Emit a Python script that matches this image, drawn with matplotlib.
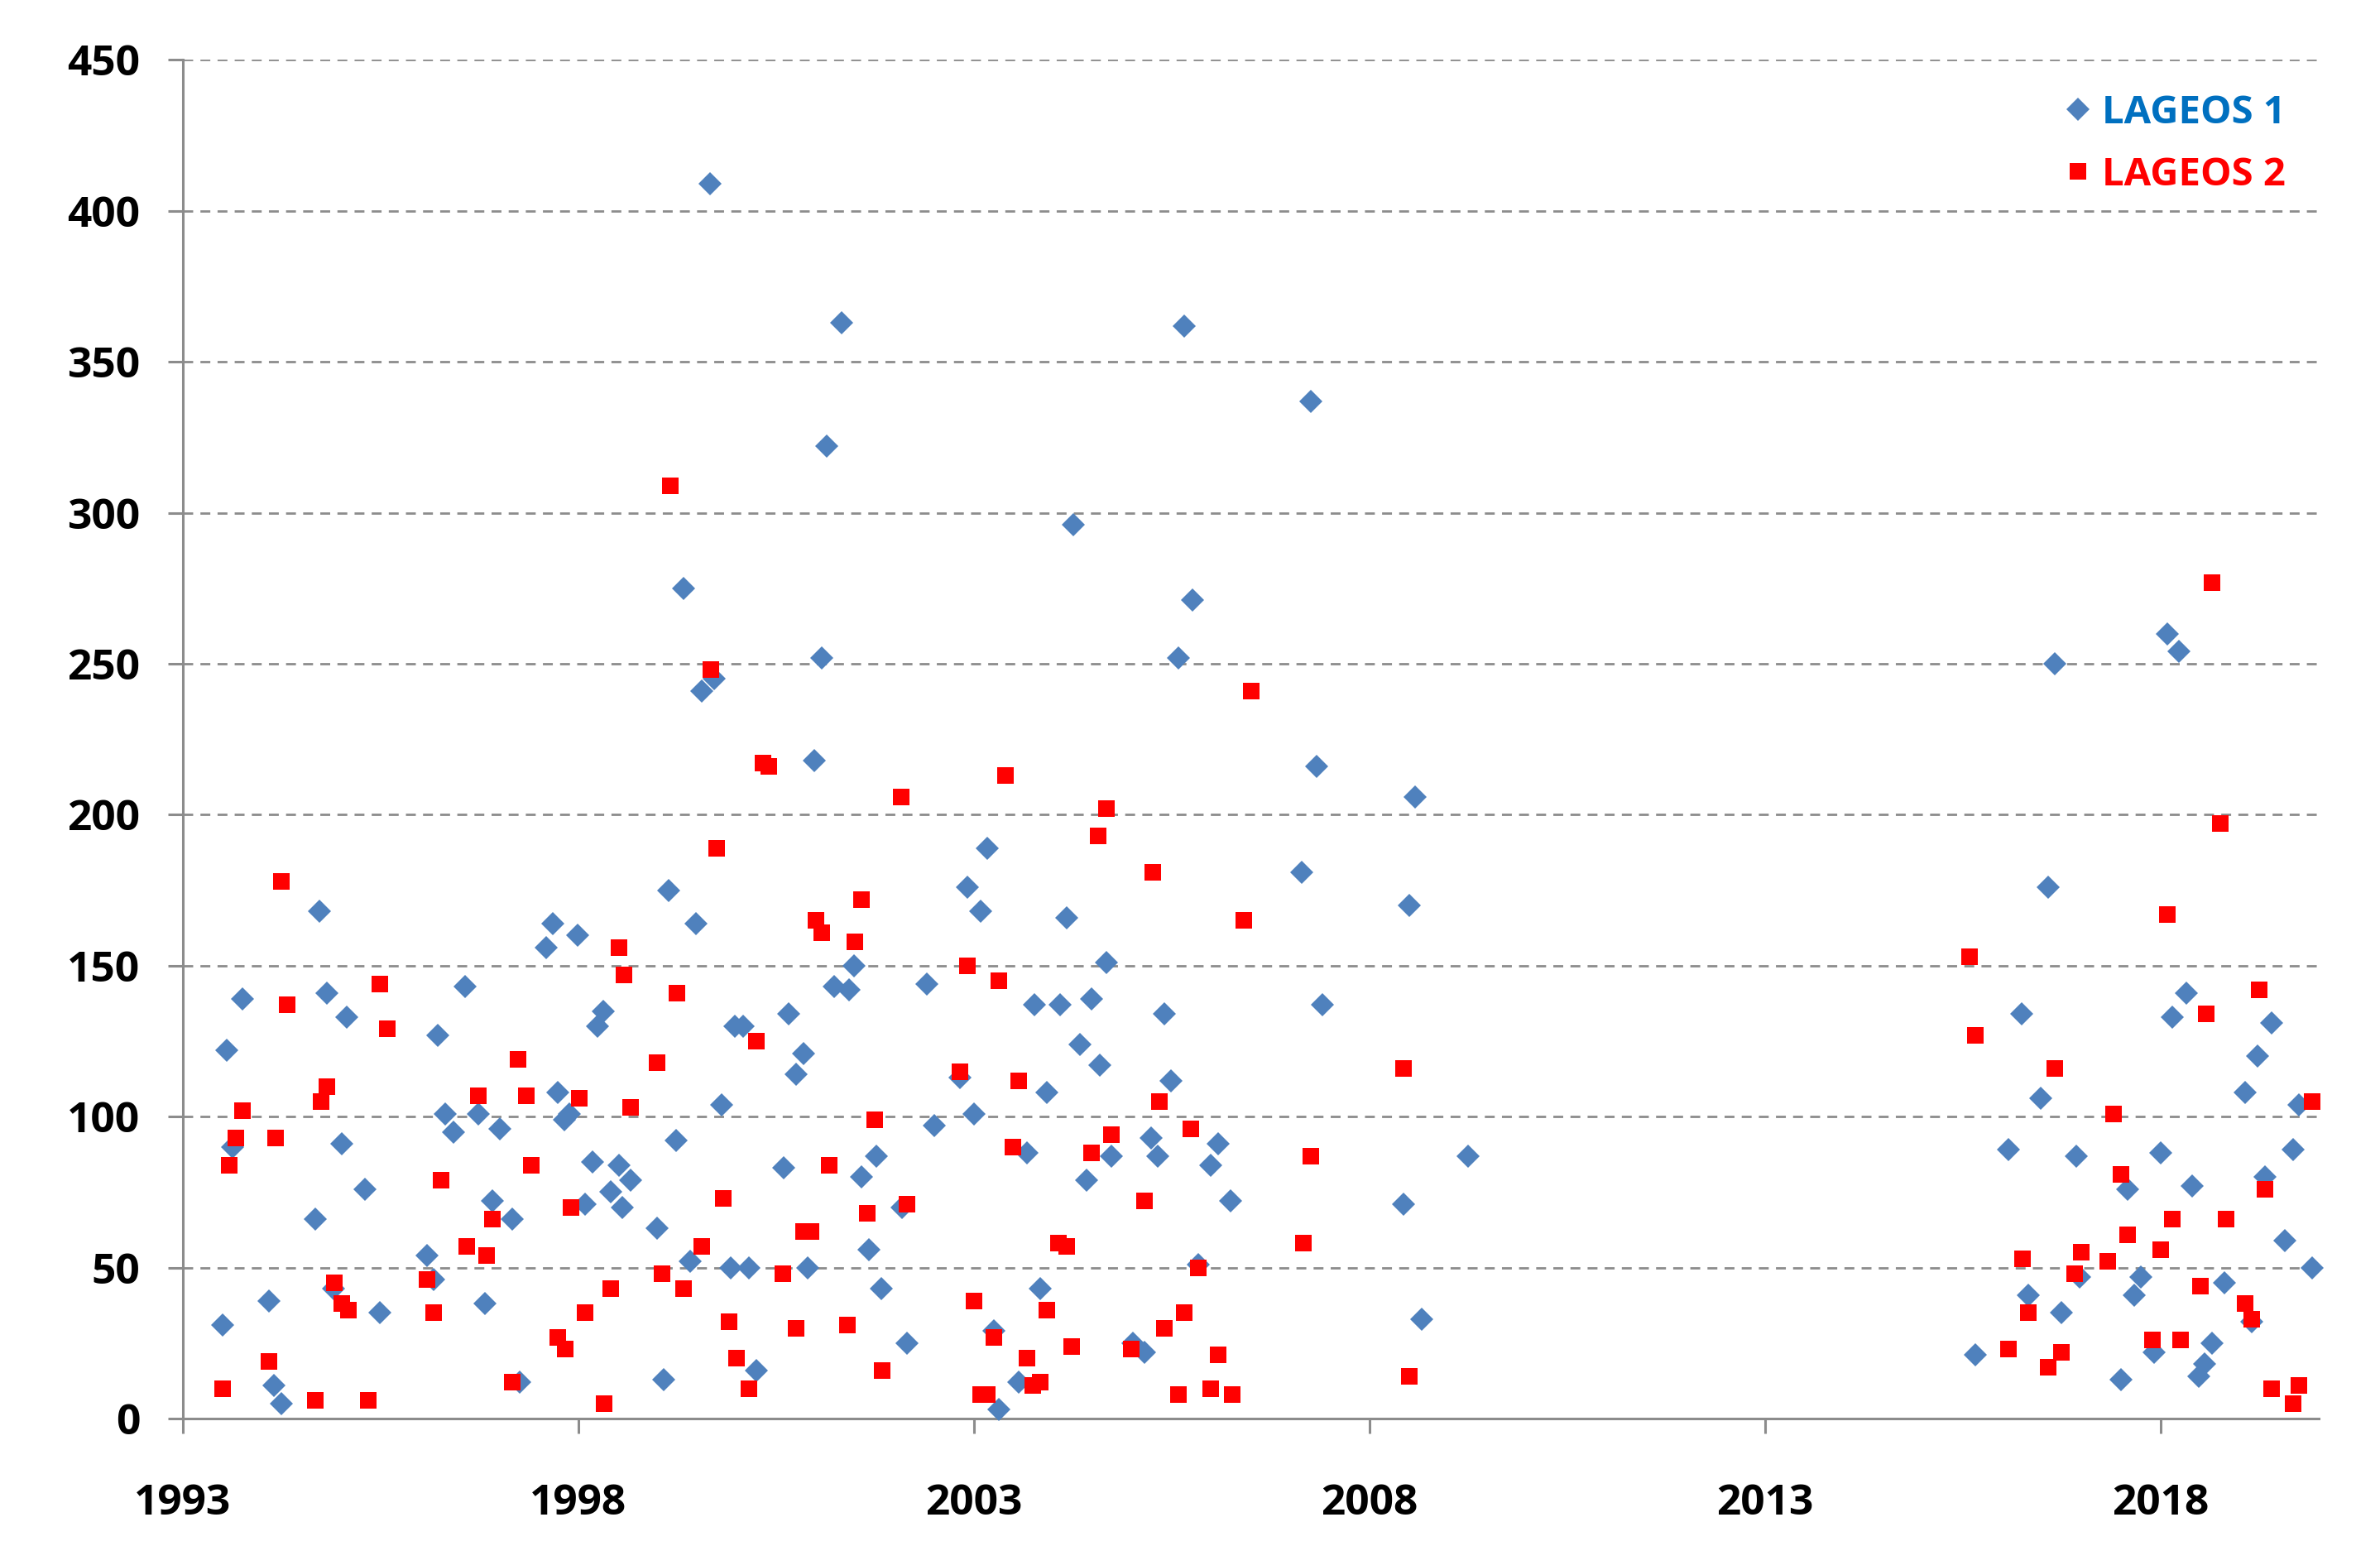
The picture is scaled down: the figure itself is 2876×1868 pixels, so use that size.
import matplotlib
matplotlib.use('Agg')
import matplotlib.pyplot as plt

plt.rcParams['font.family'] = ['Open Sans', 'DejaVu Sans']
plt.rcParams['font.weight'] = 'bold'
plt.rcParams['lines.scale_dashes'] = False

# LAGEOS 1 (blue diamonds)
lageos1_year = [1993.50, 1993.56, 1993.63, 1993.75, 1994.09, 1994.15, 1994.25, 1994.67, 1994.73, 1994.82,
                1994.90, 1995.01, 1995.07, 1995.30, 1995.49,
                1996.09, 1996.17, 1996.22, 1996.32, 1996.42, 1996.57, 1996.74, 1996.82, 1996.91, 1997.01,
                1997.16, 1997.26, 1997.59, 1997.68, 1997.74, 1997.82, 1997.89, 1997.99,
                1998.08, 1998.18, 1998.24, 1998.31, 1998.41, 1998.51, 1998.56, 1998.66, 1998.99, 1999.08,
                1999.14, 1999.24, 1999.33, 1999.41, 1999.49, 1999.56, 1999.66, 1999.72, 1999.81, 1999.93, 1999.98,
                2000.08, 2000.16, 2000.25, 2000.60, 2000.66, 2000.75, 2000.85, 2000.90, 2000.98, 2001.08,
                2001.14, 2001.23, 2001.33, 2001.42, 2001.48, 2001.58, 2001.67, 2001.77, 2001.83,
                2002.09, 2002.15, 2002.40, 2002.50, 2002.82, 2002.92, 2003.00, 2003.09, 2003.17, 2003.25,
                2003.32, 2003.57, 2003.67, 2003.76, 2003.84, 2003.92,
                2004.09, 2004.17, 2004.26, 2004.34, 2004.42, 2004.49, 2004.59, 2004.67, 2004.74, 2005.01,
                2005.16, 2005.24, 2005.32, 2005.41, 2005.49, 2005.59, 2005.66, 2005.76, 2005.84, 2005.99,
                2006.09, 2006.24,
                2007.14, 2007.26, 2007.33, 2007.41, 2008.43, 2008.50, 2008.58, 2008.66, 2009.25,
                2015.66, 2016.08, 2016.24, 2016.33, 2016.48, 2016.58, 2016.66, 2016.75, 2016.93, 2016.98,
                2017.50, 2017.58, 2017.67, 2017.75, 2017.92, 2018.00, 2018.08, 2018.15, 2018.23, 2018.33,
                2018.40, 2018.48, 2018.56, 2018.65, 2018.81, 2019.07, 2019.15, 2019.23, 2019.32, 2019.40,
                2019.57, 2019.67, 2019.75, 2019.92]
lageos1_val = [31, 122, 90, 139, 39, 11, 5, 66, 168, 141,
               43, 91, 133, 76, 35,
               54, 46, 127, 101, 95, 143, 101, 38, 72, 96,
               66, 12, 156, 164, 108, 99, 101, 160,
               71, 85, 130, 135, 75, 84, 70, 79, 63, 13,
               175, 92, 275, 52, 164, 241, 409, 245, 104, 50, 130,
               130, 50, 16, 83, 134, 114, 121, 50, 218, 252,
               322, 143, 363, 142, 150, 80, 56, 87, 43,
               70, 25, 144, 97, 113, 176, 101, 168, 189, 29,
               3, 12, 88, 137, 43, 108,
               137, 166, 296, 124, 79, 139, 117, 151, 87, 25,
               22, 93, 87, 134, 112, 252, 362, 271, 51, 84,
               91, 72,
               181, 337, 216, 137, 71, 170, 206, 33, 87,
               21, 89, 134, 41, 106, 176, 250, 35, 87, 47,
               13, 76, 41, 47, 22, 88, 260, 133, 254, 141,
               77, 14, 18, 25, 45, 108, 32, 120, 80, 131,
               59, 89, 104, 50]

# LAGEOS 2 (red squares)
lageos2_year = [1993.50, 1993.59, 1993.67, 1993.75, 1994.09, 1994.17, 1994.25, 1994.32, 1994.67, 1994.75,
                1994.82, 1994.92, 1995.01, 1995.09, 1995.34, 1995.49, 1995.59,
                1996.09, 1996.17, 1996.26, 1996.59, 1996.74, 1996.84, 1996.91, 1997.16, 1997.24,
                1997.34, 1997.41, 1997.74, 1997.83, 1997.91, 1998.01, 1998.08,
                1998.33, 1998.41, 1998.51, 1998.58, 1998.66, 1998.99, 1999.06, 1999.16, 1999.25, 1999.33,
                1999.56, 1999.68, 1999.75, 1999.83, 1999.91, 2000.00, 2000.16, 2000.25, 2000.33, 2000.41,
                2000.58, 2000.75, 2000.85, 2000.94, 2001.00, 2001.08, 2001.17, 2001.40, 2001.50, 2001.58,
                2001.65, 2001.75, 2001.84, 2002.08, 2002.15,
                2002.82, 2002.92, 2003.00, 2003.09, 2003.17, 2003.25, 2003.32, 2003.40, 2003.49, 2003.57,
                2003.67, 2003.74, 2003.84, 2003.92, 2004.07, 2004.17, 2004.24, 2004.49, 2004.57, 2004.67,
                2004.74, 2004.99, 2005.16, 2005.26, 2005.34, 2005.41, 2005.59, 2005.66, 2005.74, 2005.84,
                2005.99, 2006.09, 2006.26, 2006.41, 2006.51, 2007.16, 2007.26, 2008.43, 2008.50,
                2015.58, 2015.66, 2016.08, 2016.25, 2016.33, 2016.58, 2016.66, 2016.75, 2016.91, 2017.00,
                2017.33, 2017.41, 2017.50, 2017.58, 2017.90, 2018.00, 2018.08, 2018.15, 2018.25, 2018.50,
                2018.58, 2018.65, 2018.75, 2018.83, 2019.07, 2019.15, 2019.25, 2019.32, 2019.40, 2019.67,
                2019.75, 2019.92]
lageos2_val = [10, 84, 93, 102, 19, 93, 178, 137, 6, 105,
               110, 45, 38, 36, 6, 144, 129,
               46, 35, 79, 57, 107, 54, 66, 12, 119,
               107, 84, 27, 23, 70, 106, 35,
               5, 43, 156, 147, 103, 118, 48, 309, 141, 43,
               57, 248, 189, 73, 32, 20, 10, 125, 217, 216,
               48, 30, 62, 62, 165, 161, 84, 31, 158, 172,
               68, 99, 16, 206, 71,
               115, 150, 39, 8, 8, 27, 145, 213, 90, 112,
               20, 11, 12, 36, 58, 57, 24, 88, 193, 202,
               94, 23, 72, 181, 105, 30, 8, 35, 96, 50,
               10, 21, 8, 165, 241, 58, 87, 116, 14,
               153, 127, 23, 53, 35, 17, 116, 22, 48, 55,
               52, 101, 81, 61, 26, 56, 167, 66, 26, 44,
               134, 277, 197, 66, 38, 33, 142, 76, 10, 5,
               11, 105]

x_ticks = [1993, 1998, 2003, 2008, 2013, 2018]
y_ticks = [0, 50, 100, 150, 200, 250, 300, 350, 400, 450]

fig = plt.figure(figsize=(28.76, 18.68), dpi=100)
ax = fig.add_axes([0.0768, 0.0824, 0.8975, 0.8788])

ax.plot(lageos1_year, lageos1_val, linestyle='none', marker='D', markersize=14.5,
        color='#4F81BD', markeredgewidth=0, label='LAGEOS 1', clip_on=False, zorder=3)
ax.plot(lageos2_year, lageos2_val, linestyle='none', marker='s', markersize=14.5,
        color='#FF0000', markeredgewidth=0, label='LAGEOS 2', clip_on=False, zorder=4)

ax.set_xlim(1993, 2020)
ax.set_ylim(0, 450)
ax.set_xticks(x_ticks)
ax.set_yticks(y_ticks)
ax.set_xticklabels([str(t) for t in x_ticks])

ax.yaxis.grid(True, color='#8C8C8C', linewidth=2, linestyle=(0, (8.6, 6.3)))
ax.xaxis.grid(False)
ax.set_axisbelow(True)

for side in ['top', 'right']:
    ax.spines[side].set_visible(False)
for side in ['left', 'bottom']:
    ax.spines[side].set_color('#8C8C8C')
    ax.spines[side].set_linewidth(2.2)

ax.tick_params(axis='both', colors='#8C8C8C', width=2.2, length=13, labelsize=37,
               labelcolor='black', direction='out')
ax.tick_params(axis='x', pad=43)
ax.tick_params(axis='y', pad=24)

leg = ax.legend(loc='upper right', bbox_to_anchor=(0.9935, 0.99), frameon=False,
                fontsize=34, handletextpad=0.2, labelspacing=0.6, markerscale=1.0,
                handlelength=0.8, borderpad=0)
leg.get_texts()[0].set_color('#0070C0')
leg.get_texts()[1].set_color('#FF0000')

fig.savefig('out.png', dpi=100, facecolor='white')
